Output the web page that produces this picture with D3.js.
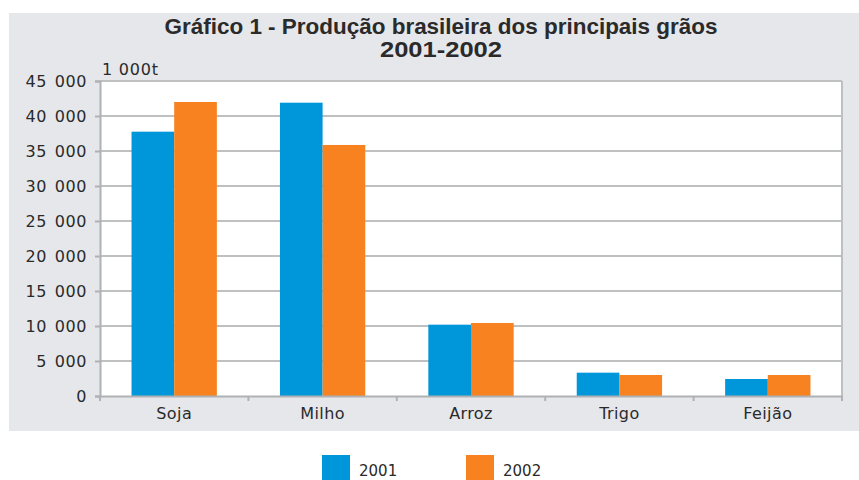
<!DOCTYPE html>
<html>
<head>
<meta charset="utf-8">
<script src="https://cdn.jsdelivr.net/npm/d3@7"></script>
<style>
  html, body { margin: 0; padding: 0; background: #ffffff; }
  svg { display: block; }
</style>
</head>
<body>
<svg id="chart" width="859" height="480"></svg>
<script>
const categories = ["Soja", "Milho", "Arroz", "Trigo", "Feijão"];
const seriesNames = ["2001", "2002"];
const values2001 = [37760, 41900, 10190, 3330, 2430];
const values2002 = [42000, 35860, 10430, 3000, 3000];
const yTicks = [0, 5000, 10000, 15000, 20000, 25000, 30000, 35000, 40000, 45000];
const titleLines = ["Gráfico 1 - Produção brasileira dos principais grãos", "2001-2002"];
const unitLabel = "1 000t";
const colors = ["#0096da", "#f7821f"];

const svg = d3.select("#chart");
const W = 859, H = 480;
const plot = { left: 100, right: 842, top: 81, bottom: 396 };

// background panel
svg.append("rect").attr("x", 9).attr("y", 13).attr("width", W - 9).attr("height", 418)
  .attr("fill", "#e6e7ea");

// plot area
svg.append("rect").attr("x", plot.left).attr("y", plot.top)
  .attr("width", plot.right - plot.left).attr("height", plot.bottom - plot.top)
  .attr("fill", "#ffffff");

const y = d3.scaleLinear().domain([0, 45000]).range([plot.bottom, plot.top]);
const x0 = d3.scaleBand().domain(categories).range([plot.left, plot.right]).paddingInner(0).paddingOuter(0);
const step = x0.step();
const groupW = step * 0.575;
const x1 = d3.scaleBand().domain(seriesNames).range([0, groupW]).padding(0);

const loc = d3.formatLocale({ decimal: ",", thousands: "\u2009\u2009", grouping: [3], currency: ["R$", ""] });
const fmt = loc.format(",d");

// gridlines
svg.append("g").selectAll("line").data(yTicks.filter(d => d > 0)).join("line")
  .attr("x1", plot.left).attr("x2", plot.right)
  .attr("y1", d => y(d)).attr("y2", d => y(d))
  .attr("stroke", "#bfc0c2").attr("stroke-width", 2);

// right border
svg.append("line").attr("x1", plot.right).attr("x2", plot.right)
  .attr("y1", plot.top).attr("y2", plot.bottom)
  .attr("stroke", "#bfc0c2").attr("stroke-width", 2);

// bars
const series = [values2001, values2002];
seriesNames.forEach((s, si) => {
  svg.append("g").selectAll("rect").data(categories).join("rect")
    .attr("x", (c) => x0(c) + (step - groupW) / 2 + x1(s))
    .attr("width", x1.bandwidth())
    .attr("y", (c, i) => y(series[si][i]))
    .attr("height", (c, i) => plot.bottom - y(series[si][i]))
    .attr("fill", colors[si]);
});

// y axis
const yAxis = d3.axisLeft(y).tickValues(yTicks).tickFormat(fmt).tickSize(5).tickPadding(8);
const gy = svg.append("g").attr("transform", `translate(${plot.left},0)`).call(yAxis);
gy.select(".domain").attr("stroke", "#b0b1b4").attr("stroke-width", 2);
gy.selectAll(".tick line").attr("stroke", "#b0b1b4").attr("stroke-width", 2);
gy.selectAll(".tick text").attr("font-family", "DejaVu Sans, sans-serif").attr("font-size", 16)
  .attr("letter-spacing", 0.6).attr("fill", "#2a2a2a");

// x axis
const xAxis = d3.axisBottom(x0).tickSize(0).tickPadding(12);
const gx = svg.append("g").attr("transform", `translate(0,${plot.bottom})`).call(xAxis);
gx.select(".domain").attr("stroke", "#b0b1b4").attr("stroke-width", 2);
gx.selectAll(".tick text").attr("font-family", "DejaVu Sans, sans-serif").attr("font-size", 16)
  .attr("letter-spacing", 0.4).attr("fill", "#2a2a2a");
// category boundary ticks
const bounds = categories.map(c => x0(c)).concat([plot.right]);
svg.append("g").selectAll("line").data(bounds).join("line")
  .attr("x1", d => d).attr("x2", d => d)
  .attr("y1", plot.bottom).attr("y2", plot.bottom + 5)
  .attr("stroke", "#b0b1b4").attr("stroke-width", 2);

// unit label
svg.append("text").attr("x", 102).attr("y", 75).text(unitLabel)
  .attr("font-family", "DejaVu Sans, sans-serif").attr("font-size", 16).attr("letter-spacing", 0.8)
  .attr("fill", "#2a2a2a");

// title
const titleWidths = [553, 122];
svg.append("g").selectAll("text").data(titleLines).join("text")
  .attr("x", 441).attr("y", (d, i) => 34 + i * 23)
  .attr("text-anchor", "middle")
  .attr("font-family", "Liberation Sans, Arial, sans-serif")
  .attr("font-weight", "bold").attr("font-size", 22).attr("fill", "#2a2a2a")
  .attr("textLength", (d, i) => titleWidths[i])
  .attr("lengthAdjust", "spacingAndGlyphs")
  .text(d => d);

// legend
const legendX = [322, 466];
seriesNames.forEach((s, i) => {
  svg.append("rect").attr("x", legendX[i]).attr("y", 455).attr("width", 28).attr("height", 28).attr("fill", colors[i]);
  svg.append("text").attr("x", legendX[i] + 37).attr("y", 476).text(s)
    .attr("font-family", "DejaVu Sans, sans-serif").attr("font-size", 15).attr("fill", "#2a2a2a");
});
</script>
</body>
</html>
